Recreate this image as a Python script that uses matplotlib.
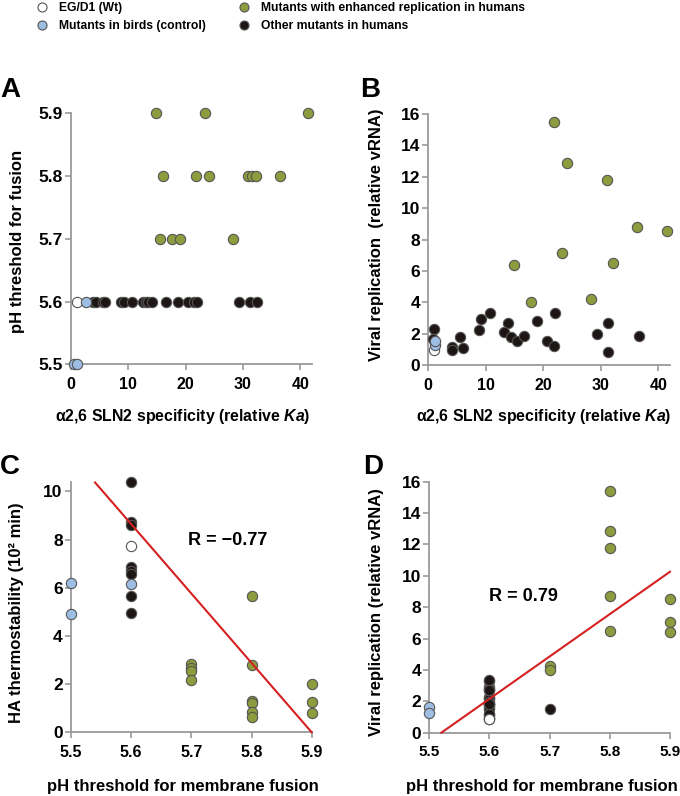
import matplotlib
matplotlib.use('Agg')
import matplotlib.pyplot as plt
from matplotlib.lines import Line2D

plt.rcParams['font.family'] = ['Liberation Sans', 'DejaVu Sans']
plt.rcParams['font.weight'] = 'bold'
plt.rcParams['mathtext.fontset'] = 'custom'
plt.rcParams['mathtext.it'] = 'Liberation Sans:italic:bold'
plt.rcParams['mathtext.rm'] = 'Liberation Sans:bold'

WT_C = 'white'
BIRD_C = '#9dbde3'
GREEN_C = '#8c9c3e'
BLACK_C = '#1e1515'
EDGE = '#555555'
AXIS_C = '#9a9a9a'
LINE_C = '#d42020'

legend_labels = ['EG/D1 (Wt)', 'Mutants in birds (control)',
                 'Mutants with enhanced replication in humans',
                 'Other mutants in humans']

# Panel A: a2,6 specificity vs pH threshold for fusion
a_wt_x = [1.0]
a_wt_y = [5.6]
a_bird_x = [2.6, 0.5, 1.1]
a_bird_y = [5.6, 5.5, 5.5]
a_green_x = [14.8, 23.4, 41.4, 16.1, 21.8, 24.1, 30.9, 31.6, 32.3, 36.4,
             15.5, 17.7, 19.1, 28.3]
a_green_y = [5.9, 5.9, 5.9, 5.8, 5.8, 5.8, 5.8, 5.8, 5.8, 5.8,
             5.7, 5.7, 5.7, 5.7]
a_black_x = [3.9, 4.4, 5.6, 6.0, 8.8, 9.2, 10.6, 12.6, 13.0, 13.5, 14.1,
             16.6, 18.7, 20.5, 21.4, 22.0, 29.3, 31.2, 32.4]
a_black_y = [5.6] * len(a_black_x)

# Panel B: a2,6 specificity vs viral replication
b_wt_x = [1.0]
b_wt_y = [0.95]
b_bird_x = [1.1, 1.2]
b_bird_y = [1.25, 1.55]
b_green_x = [21.9, 24.1, 31.0, 36.2, 41.4, 23.3, 32.1, 14.9, 17.8, 28.3]
b_green_y = [15.5, 12.85, 11.8, 8.78, 8.54, 7.14, 6.48, 6.37, 4.04, 4.2]
b_black_x = [1.04, 0.76, 4.2, 4.15, 6.1, 5.5, 9.1, 10.7, 8.85, 13.8, 13.1,
             14.3, 15.5, 16.7, 18.9, 20.6, 21.8, 22.0, 29.3, 31.3, 31.3, 36.6]
b_black_y = [2.27, 1.64, 1.17, 0.96, 1.06, 1.77, 2.91, 3.29, 2.23, 2.70, 2.12,
             1.80, 1.51, 1.85, 2.80, 1.51, 1.21, 3.33, 1.98, 2.70, 0.85, 1.85]

# Panel C: pH threshold vs HA thermostability
c_wt_x = [5.6]
c_wt_y = [7.72]
c_bird_x = [5.5, 5.5, 5.6]
c_bird_y = [6.19, 4.92, 6.17]
c_black_x = [5.6] * 8
c_black_y = [10.37, 8.72, 8.62, 6.86, 6.7, 6.58, 5.65, 4.96]
c_green_x = [5.7] * 4 + [5.8] * 6 + [5.9] * 3
c_green_y = [2.85, 2.65, 2.55, 2.15, 5.65, 2.8, 1.3, 1.2, 0.85, 0.65,
             2.0, 1.27, 0.82]
c_fit = (-28.8, 169.92)      # slope, intercept
c_fit_range = [5.54, 5.9]
c_r = 'R = \u22120.77'

# Panel D: pH threshold vs viral replication
d_wt_x = [5.6]
d_wt_y = [0.9]
d_bird_x = [5.5, 5.5]
d_bird_y = [1.67, 1.25]
d_black_x = [5.6] * 21 + [5.7]
d_black_y = [2.27, 1.64, 1.17, 0.96, 1.06, 1.77, 2.91, 3.29, 2.23, 2.70, 2.12,
             1.80, 1.85, 2.80, 1.51, 1.21, 3.33, 1.98, 2.70, 0.85, 1.85, 1.5]
d_green_x = [5.7, 5.7, 5.8, 5.8, 5.8, 5.8, 5.8, 5.9, 5.9, 5.9]
d_green_y = [4.22, 4.0, 15.42, 12.83, 11.8, 8.73, 6.48, 8.52, 7.07, 6.39]
d_fit = (27.0, -149.04)
d_fit_range = [5.52, 5.9]
d_r = 'R = 0.79'

ph_ticks = [5.5, 5.6, 5.7, 5.8, 5.9]
ka_ticks = [0, 10, 20, 30, 40]
ka_label = '\u03b12,6 SLN2 specificity (relative $\\mathit{Ka}$)'
ph_label = 'pH threshold for membrane fusion'


def dots(ax, x, y, color):
    ax.scatter(x, y, s=55, c=color, edgecolors=EDGE, linewidths=0.8,
               clip_on=False, zorder=3)


def style(ax, xsize=11.5):
    for side in ['top', 'right']:
        ax.spines[side].set_visible(False)
    for side in ['left', 'bottom']:
        ax.spines[side].set_color(AXIS_C)
        ax.spines[side].set_linewidth(1.3)
    ax.tick_params(axis='both', direction='out', length=4, width=1.2,
                   color=AXIS_C)
    ax.tick_params(axis='x', pad=5, labelsize=xsize)
    ax.tick_params(axis='y', pad=2, labelsize=12.5)


def labels(ax, xl, yl, xpos, ypos, xsize=12):
    ax.set_xlabel(xl, fontsize=xsize, fontweight='bold', va='center')
    ax.set_ylabel(yl, fontsize=12, fontweight='bold', va='center')
    ax.xaxis.set_label_coords(*xpos)
    ax.yaxis.set_label_coords(*ypos)


fig = plt.figure(figsize=(6.8, 7.96), dpi=100)
W, H = 680, 796


def add_axes(l, r, t, b):
    return fig.add_axes([l / W, 1 - b / H, (r - l) / W, (b - t) / H])


axA = add_axes(71, 311.7, 113.3, 364.3)
axB = add_axes(428.3, 670, 114, 365)
axC = add_axes(71, 311.7, 481.7, 732.3)
axD = add_axes(429.3, 670, 481.7, 732.7)

# A
dots(axA, a_black_x, a_black_y, BLACK_C)
dots(axA, a_green_x, a_green_y, GREEN_C)
dots(axA, a_wt_x, a_wt_y, WT_C)
dots(axA, a_bird_x, a_bird_y, BIRD_C)
axA.set_xlim(0, 42)
axA.set_ylim(5.5, 5.9)
axA.set_xticks(ka_ticks)
axA.set_yticks(ph_ticks)
axA.set_yticklabels([f'{v:.1f}' for v in ph_ticks])
style(axA)
labels(axA, ka_label, 'pH threshold for fusion', (0.465, -0.209), (-0.224, 0.49),
       xsize=11.4)

# B
dots(axB, b_black_x, b_black_y, BLACK_C)
dots(axB, b_green_x, b_green_y, GREEN_C)
dots(axB, b_wt_x, b_wt_y, WT_C)
dots(axB, b_bird_x, b_bird_y, BIRD_C)
axB.set_xlim(0, 42)
axB.set_ylim(0, 16)
axB.set_xticks(ka_ticks)
axB.set_yticks(range(0, 17, 2))
style(axB)
labels(axB, ka_label, 'Viral replication  (relative vRNA)',
       (0.476, -0.206), (-0.213, 0.518), xsize=11.4)

# C
axC.plot(c_fit_range, [c_fit[0] * x + c_fit[1] for x in c_fit_range],
         color=LINE_C, lw=1.5, zorder=4, clip_on=False)
dots(axC, c_black_x, c_black_y, BLACK_C)
dots(axC, c_green_x, c_green_y, GREEN_C)
dots(axC, c_wt_x, c_wt_y, WT_C)
dots(axC, c_bird_x, c_bird_y, BIRD_C)
axC.set_xlim(5.5, 5.9)
axC.set_ylim(0, 10.4)
axC.set_xticks(ph_ticks)
axC.set_xticklabels([f'{v:.1f}' for v in ph_ticks])
axC.set_yticks(range(0, 11, 2))
style(axC)
labels(axC, ph_label, 'HA thermostability (10\u00b2 min)',
       (0.465, -0.217), (-0.226, 0.476))
axC.text(5.76, 7.96, c_r, fontsize=13, fontweight='bold',
         ha='center', va='center')

# D
axD.plot(d_fit_range, [d_fit[0] * x + d_fit[1] for x in d_fit_range],
         color=LINE_C, lw=1.5, zorder=4, clip_on=False)
dots(axD, d_black_x, d_black_y, BLACK_C)
dots(axD, d_green_x, d_green_y, GREEN_C)
dots(axD, d_wt_x, d_wt_y, WT_C)
dots(axD, d_bird_x, d_bird_y, BIRD_C)
axD.set_xlim(5.5, 5.9)
axD.set_ylim(0, 16)
axD.set_xticks(ph_ticks)
axD.set_xticklabels([f'{v:.1f}' for v in ph_ticks])
axD.set_yticks(range(0, 17, 2))
style(axD, xsize=11)
labels(axD, ph_label, 'Viral replication (relative vRNA)',
       (0.467, -0.215), (-0.219, 0.482))
axD.text(5.656, 8.67, d_r, fontsize=13, fontweight='bold',
         ha='center', va='center')

# panel letters
for letter, x, y in [('A', 0, 90), ('B', 360, 90), ('C', 0, 467), ('D', 363, 467)]:
    fig.text(x / W, 1 - y / H, letter, fontsize=20, fontweight='bold',
             ha='left', va='center')

# legend
colors = [WT_C, BIRD_C, GREEN_C, BLACK_C]
handles = [Line2D([], [], ls='', marker='o', markersize=6.5, markerfacecolor=c,
                  markeredgecolor=EDGE, markeredgewidth=0.8) for c in colors]
fig.legend(handles, legend_labels, ncol=2, loc='upper left',
           bbox_to_anchor=(36 / W, 1 - 2 / H), frameon=False, fontsize=8.7,
           handlelength=1.0, handletextpad=0.9, columnspacing=2.7,
           labelspacing=0.48, borderpad=0, borderaxespad=0)

fig.savefig('out.png', dpi=100)
